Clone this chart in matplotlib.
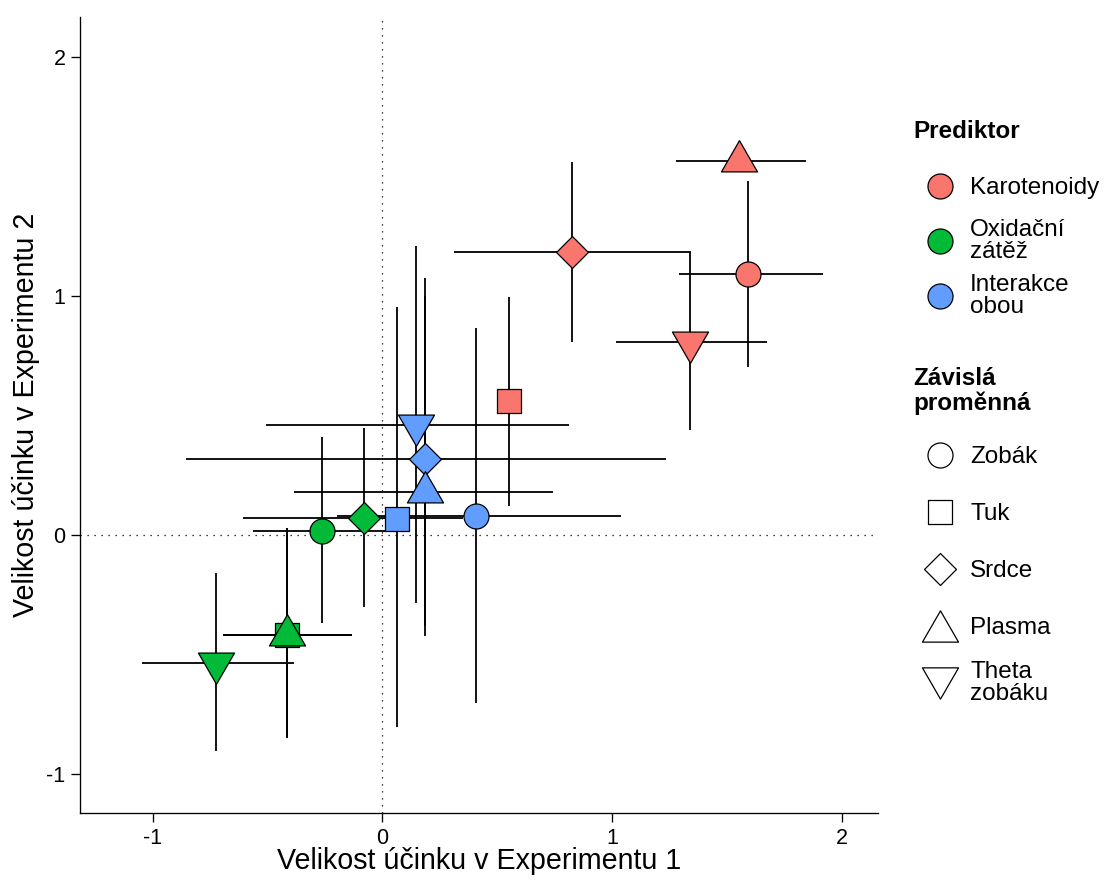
import matplotlib
matplotlib.use('Agg')
import matplotlib.pyplot as plt
from matplotlib.lines import Line2D
from matplotlib.path import Path
import numpy as np

plt.rcParams['font.family'] = ['Liberation Sans', 'DejaVu Sans']
plt.rcParams['axes.unicode_minus'] = False

predictors = ['Karotenoidy', 'Oxidační\nzátěž', 'Interakce\nobou']
variables = ['Zobák', 'Tuk', 'Srdce', 'Plasma', 'Theta\nzobáku']
colors = ['#F8766D', '#00BA38', '#619CFF']

# order: predictor (Karotenoidy, Oxidacni zatez, Interakce), then variable
x_est = [1.592, 0.551, 0.825, 1.552, 1.338,
         -0.262, -0.413, -0.081, -0.413, -0.722,
         0.408, 0.064, 0.185, 0.184, 0.145]
x_low = [1.291, 0.530, 0.311, 1.277, 1.018,
         -0.562, -0.693, -0.605, -0.693, -1.047,
         -0.199, 0.030, -0.855, -0.386, -0.507]
x_high = [1.916, 0.575, 1.345, 1.843, 1.672,
          0.052, -0.134, 0.349, -0.134, -0.386,
          1.040, 0.100, 1.233, 0.742, 0.812]
y_est = [1.090, 0.559, 1.183, 1.565, 0.809,
         0.017, -0.420, 0.070, -0.420, -0.534,
         0.078, 0.069, 0.318, 0.179, 0.460]
y_low = [0.704, 0.121, 0.808, 1.540, 0.439,
         -0.367, -0.851, -0.300, -0.851, -0.904,
         -0.702, -0.802, -0.423, -0.380, -0.283]
y_high = [1.481, 0.997, 1.559, 1.590, 1.183,
          0.409, 0.028, 0.446, 0.028, -0.160,
          0.867, 0.954, 1.077, 1.000, 1.210]

# marker shapes (centroid at origin like R's pch 21-25)
shapes = [
    ('o', 18),
    (Path([(-1, -1), (1, -1), (1, 1), (-1, 1), (-1, -1)], closed=True), 17.3),
    (Path([(0, 1), (1, 0), (0, -1), (-1, 0), (0, 1)], closed=True), 23),
    (Path([(0, 1), (-0.866, -0.5), (0.866, -0.5), (0, 1)], closed=True), 30),
    (Path([(0, -1), (-0.866, 0.5), (0.866, 0.5), (0, -1)], closed=True), 30),
]
# legend keys: triangles centred on their box
key_shapes = shapes[:3] + [
    (Path([(0, 0.75), (-0.866, -0.75), (0.866, -0.75), (0, 0.75)], closed=True), 26),
    (Path([(0, -0.75), (-0.866, 0.75), (0.866, 0.75), (0, -0.75)], closed=True), 26),
]

x_est = np.array(x_est)
y_est = np.array(y_est)
n_var = len(variables)

fig = plt.figure(figsize=(11.09, 8.90), dpi=100)
ax = fig.add_axes([80/1109, 1 - 813/890, 798/1109, 796/890])

ax.axvline(0, color='black', lw=0.9, linestyle=(0, (1, 4.6)), zorder=1)
ax.axhline(0, color='black', lw=0.9, linestyle=(0, (1, 4.6)), zorder=1)

ax.errorbar(x_est, y_est,
            xerr=[x_est - np.array(x_low), np.array(x_high) - x_est],
            yerr=[y_est - np.array(y_low), np.array(y_high) - y_est],
            fmt='none', ecolor='black', elinewidth=1.3, capsize=0, zorder=2)

for p, col in enumerate(colors):
    for v, (mk, ms) in enumerate(shapes):
        i = p * n_var + v
        ax.plot(x_est[i], y_est[i], linestyle='none', marker=mk, markersize=ms,
                markerfacecolor=col, markeredgecolor='black',
                markeredgewidth=0.9, zorder=3)

ax.set_xlim(-1.316, 2.157)
ax.set_ylim(-1.163, 2.167)
ax.set_xticks([-1, 0, 1, 2])
ax.set_yticks([-1, 0, 1, 2])
for s in ['top', 'right']:
    ax.spines[s].set_visible(False)
for s in ['left', 'bottom']:
    ax.spines[s].set_linewidth(0.95)
ax.tick_params(direction='out', length=6.5, width=0.95, labelsize=15.5,
               pad=4, colors='black')

ax.set_xlabel('Velikost účinku v Experimentu 1', fontsize=20.6)
ax.set_ylabel('Velikost účinku v Experimentu 2', fontsize=20.6)
ax.xaxis.set_label_coords(0.5, -0.043)
ax.yaxis.set_label_coords(-0.050, 0.5)

# legends
fs = 17.5
pred_handles = [Line2D([], [], linestyle='none', marker='o', markersize=18,
                       markerfacecolor=c, markeredgecolor='black',
                       markeredgewidth=0.9) for c in colors]
shape_handles = [Line2D([], [], linestyle='none', marker=mk, markersize=ms,
                        markerfacecolor='white', markeredgecolor='black',
                        markeredgewidth=0.9) for mk, ms in key_shapes]

fig.text(913/1109, 1 - 132/890, 'Prediktor', fontsize=fs, weight='bold',
         ha='left', va='center')
fig.text(913/1109, 1 - 391/890, 'Závislá\nproměnná', fontsize=fs,
         weight='bold', ha='left', va='center', linespacing=1.05)

leg_kw = dict(loc='upper left', frameon=False, fontsize=fs,
              handlelength=2.2, handleheight=2.8, handletextpad=0.15,
              borderpad=0, borderaxespad=0)
leg1 = fig.legend(pred_handles, predictors,
                  bbox_to_anchor=(913/1109, 1 - 162/890),
                  labelspacing=0.2, **leg_kw)
leg2 = fig.legend(shape_handles, variables,
                  bbox_to_anchor=(913/1109, 1 - 431/890),
                  labelspacing=0.28, **leg_kw)
for leg in (leg1, leg2):
    for t in leg.get_texts():
        t.set_linespacing(1.0)
    for h in leg.legend_handles:
        h.set_ydata(np.full(len(h.get_xdata()), 0.35 * fs))

fig.savefig('out.png', dpi=100)
